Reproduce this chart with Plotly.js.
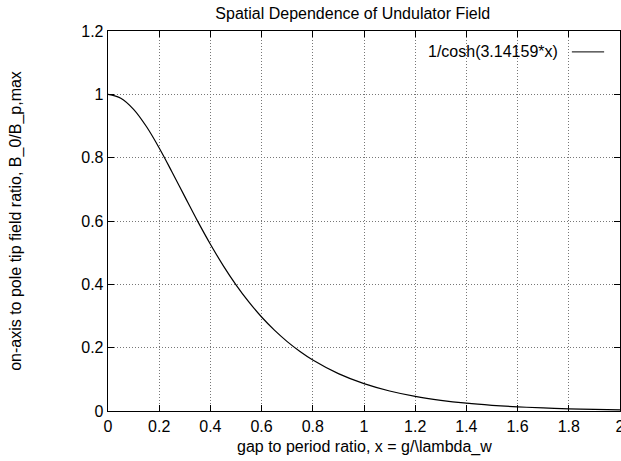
<!DOCTYPE html>
<html><head><meta charset="utf-8">
<script src="https://cdn.plot.ly/plotly-3.0.1.min.js"></script>
<style>body{margin:0;padding:0;background:#fff}#chart{width:621px;height:461px}</style>
</head><body><div id="chart"></div>
<script>
const xValues = [0,0.05,0.1,0.15,0.2,0.25,0.3,0.35,0.4,0.45,0.5,0.55,0.6,0.65,0.7,0.75,0.8,0.9,1.0,1.1,1.2,1.3,1.4,1.5,1.6,1.7,1.8,1.9,2.0];
const yValues = [1,0.9878,0.9526,0.8983,0.8306,0.7549,0.6769,0.5996,0.5266,0.4593,0.3985,0.3445,0.2968,0.2552,0.2191,0.1879,0.1610,0.1179,0.0863,0.0631,0.0461,0.0337,0.0246,0.0180,0.0131,0.0096,0.0070,0.0051,0.0037];
const seriesName = "1/cosh(3.14159*x)";
const xTitle = "gap to period ratio, x = g/\\lambda_w";
const yTitle = "on-axis to pole tip field ratio, B_0/B_p,max";
const xTicks = [0,0.2,0.4,0.6,0.8,1,1.2,1.4,1.6,1.8,2];
const yTicks = [0,0.2,0.4,0.6,0.8,1,1.2];

const font = {family:"Liberation Sans, Arial, sans-serif", size:16, color:"#000"};
const trace = {x:xValues, y:yValues, type:"scatter", mode:"lines", line:{color:"#000", width:1.2, shape:"spline"}, name:seriesName, showlegend:false};
const axisCommon = {showline:true, linecolor:"#000", linewidth:1.3, mirror:"ticks", ticks:"inside", ticklen:6, tickcolor:"#000",
  showgrid:true, gridcolor:"#777", griddash:"1px,2px", gridwidth:1, zeroline:false, tickfont:font, ticklabeloverflow:"allow"};
const layout = {
  width:621, height:461, margin:{l:108, r:1, t:31, b:50},
  paper_bgcolor:"#fff", plot_bgcolor:"#fff", font:font, showlegend:false,
  title:{text:"Spatial Dependence of Undulator Field", font:font, xref:"paper", x:0.478, xanchor:"center", yref:"container", y:0.972, yanchor:"middle"},
  xaxis:Object.assign({}, axisCommon, {range:[0,2], tickvals:xTicks, ticktext:xTicks.map(String)}),
  yaxis:Object.assign({}, axisCommon, {range:[0,1.2], tickvals:yTicks, ticktext:yTicks.map(String), title:{text:yTitle, font:font, standoff:55}}),
  annotations:[
    {text:seriesName, xref:"paper", yref:"paper", x:0.883, y:0.945, xanchor:"right", yanchor:"middle", showarrow:false, font:font},
    {text:xTitle, xref:"paper", yref:"paper", x:0.5, y:-0.095, xanchor:"center", yanchor:"middle", showarrow:false, font:font}
  ],
  shapes:[{type:"line", xref:"paper", yref:"paper", x0:0.906, x1:0.969, y0:0.945, y1:0.945, line:{color:"#000", width:1}}]
};
Plotly.newPlot("chart", [trace], layout, {displayModeBar:false, staticPlot:true});
</script></body></html>
